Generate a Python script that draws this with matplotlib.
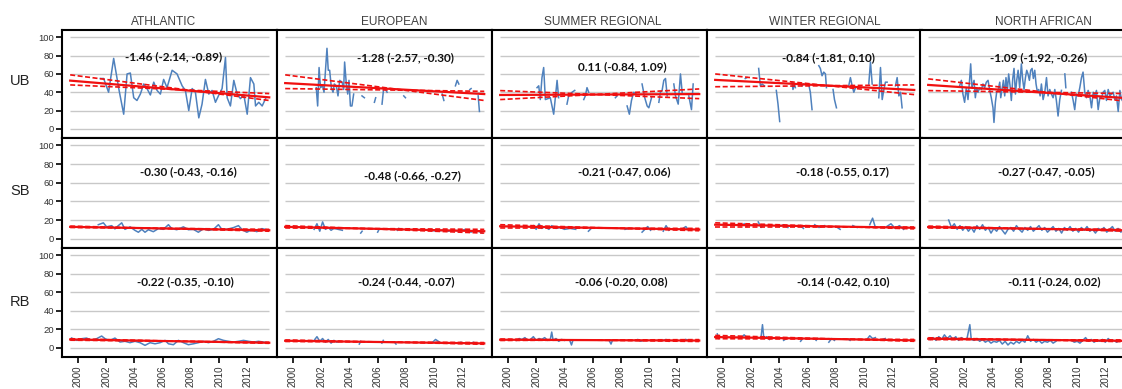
import matplotlib
matplotlib.use("Agg")
import matplotlib.pyplot as plt
import numpy as np

nan = float("nan")

regions = ["ATHLANTIC", "EUROPEAN", "SUMMER REGIONAL", "WINTER REGIONAL", "NORTH AFRICAN"]
rows = ["UB", "SB", "RB"]
year_ticks = [2000, 2002, 2004, 2006, 2008, 2010, 2012]
value_ticks = [0, 20, 40, 60, 80, 100]

# slope (95% CI) printed in each panel
ub_labels = ["-1.46 (-2.14, -0.89)", "-1.28 (-2.57, -0.30)", "0.11 (-0.84, 1.09)",
             "-0.84 (-1.81, 0.10)", "-1.09 (-1.92, -0.26)"]
sb_labels = ["-0.30 (-0.43, -0.16)", "-0.48 (-0.66, -0.27)", "-0.21 (-0.47, 0.06)",
             "-0.18 (-0.55, 0.17)", "-0.27 (-0.47, -0.05)"]
rb_labels = ["-0.22 (-0.35, -0.10)", "-0.24 (-0.44, -0.07)", "-0.06 (-0.20, 0.08)",
             "-0.14 (-0.42, 0.10)", "-0.11 (-0.24, 0.02)"]

# fitted trend (start, end) and the two CI lines
ub_fit = [(52.7, 34.4), (50, 38), (37, 38), (53.5, 42.5), (48, 33.5)]
ub_ci1 = [(59, 31), (59, 31), (41.8, 33), (60, 37.4), (54.6, 30)]
ub_ci2 = [(48, 38.5), (44, 41), (32, 43.6), (46, 48), (41.8, 38.5)]
sb_fit = [(12.7, 9), (12.7, 8), (13.3, 9.8), (15, 11.7), (12.5, 9)]
sb_ci1 = [(13.5, 8), (14, 6), (15, 8.5), (17, 10.5), (13.5, 8)]
sb_ci2 = [(12, 10), (11.5, 10), (11.5, 11), (13, 13), (11.5, 10)]
rb_fit = [(9, 5.4), (7.6, 4.7), (8.7, 7.8), (11.6, 8), (9.8, 7.5)]
rb_ci1 = [(9.8, 4.8), (8.5, 3.8), (9.5, 6.8), (13.4, 7), (10.8, 6.5)]
rb_ci2 = [(8.2, 6), (6.8, 5.6), (7.9, 8.8), (9.8, 9), (8.8, 8.5)]

# ---- UB series
ub_athl_x = [2001.58, 2001.82, 2002.17, 2002.53, 2002.89, 2003.24, 2003.48, 2003.71, 2003.95, 2004.18,
             2004.42, 2004.66, 2004.89, 2005.13, 2005.37, 2005.60, 2005.84, 2006.07, 2006.31, 2006.67,
             2007.02, 2007.38, 2007.61, 2007.85, 2008.09, 2008.32, 2008.56, 2008.79, 2009.03, 2009.27,
             2009.50, 2009.74, 2009.98, 2010.21, 2010.45, 2010.57, 2010.80, 2011.04, 2011.28, 2011.51,
             2011.75, 2011.99, 2012.22, 2012.46, 2012.58, 2012.81, 2013.05, 2013.29]
ub_athl_y = [55, 55, 40, 77, 44, 16, 60, 61, 34, 31, 38, 49, 44, 37, 51, 42, 38, 54, 45, 64,
             60, 47, 42, 20, 44, 40, 12, 27, 54, 38, 42, 29, 37, 44, 78, 34, 25, 53, 38, 33,
             37, 16, 56, 49, 25, 29, 25, 33]

ub_euro_x = [2001.65, 2001.75, 2001.85, 2001.95, 2002.1, 2002.2, 2002.41, 2002.5, 2002.6, 2002.72,
             2002.84, 2002.93, 2003.07, 2003.19, 2003.31, 2003.48, 2003.59, 2003.66, 2003.78, 2003.88,
             2003.97, 2004.07, 2004.18, 2004.30, nan, 2004.89, 2005.06, nan, 2005.77, 2005.86, nan,
             2006.31, 2006.43, 2006.55, 2006.67, nan, 2007.85, 2007.97, nan, 2010.57, 2010.69, nan,
             2011.51, 2011.63, 2011.75, nan, 2012.53, 2012.62, nan, 2013.12, 2013.21]
ub_euro_y = [45, 25, 67, 45, 47, 40, 88, 64, 64, 45,
             40, 49, 47, 36, 53, 51, 43, 73, 49, 38,
             53, 25, 25, 38, nan, 36, 34, nan, 29, 34, nan,
             27, 45, 43, 40, nan, 36, 34, nan, 38, 31, nan,
             47, 53, 49, nan, 43, 44, nan, 36, 19]

ub_summ_x = [2002.06, 2002.18, 2002.29, 2002.41, 2002.53, 2002.65, 2003.00, 2003.24, 2003.48, 2003.59,
             nan, 2004.18, 2004.30, 2004.54, 2004.73, nan, 2005.37, 2005.48, 2005.60, 2005.72, nan,
             2007.61, 2007.73, nan, 2008.44, 2008.60, 2008.75, 2008.91, 2009.08, nan,
             2009.50, 2009.69, 2009.86, 2009.98, 2010.17, nan, 2010.69, 2010.80, 2010.92, 2011.04,
             2011.16, 2011.28, nan, 2011.75, 2011.87, 2012.06, 2012.22, 2012.34, nan,
             2012.81, 2013.00, 2013.12]
ub_summ_y = [45, 47, 32, 56, 67, 32, 34, 16, 53, 34,
             nan, 27, 36, 40, 42, nan, 32, 36, 45, 40, nan,
             34, 36, nan, 25, 16, 31, 40, 38, nan,
             49, 34, 25, 23, 34, nan, 29, 40, 42, 53,
             55, 36, nan, 49, 36, 27, 60, 40, nan,
             36, 21, 49]

ub_wint_x = [2001.58, 2001.70, nan, 2002.53, 2002.65, 2002.77, 2002.93, nan, 2003.78, 2003.90, 2004.02,
             nan, 2004.89, 2004.96, 2005.06, 2005.13, nan, 2005.60, 2005.72, nan, 2006.07, 2006.19,
             2006.31, nan, 2006.79, 2006.90, 2007.02, 2007.14, 2007.26, 2007.33, nan, 2007.80, 2007.90,
             2008.04, nan, 2008.91, 2009.03, 2009.15, 2009.27, 2009.39, nan, 2010.33, 2010.45, 2010.57,
             nan, 2011.04, 2011.16, 2011.28, 2011.40, 2011.51, 2011.63, nan, 2012.22, 2012.34, 2012.46,
             2012.58, 2012.69]
ub_wint_y = [55, 56, nan, 66, 47, 49, 47, nan, 42, 27, 8,
             nan, 51, 43, 49, 45, nan, 47, 49, nan, 49, 40,
             21, nan, 69, 66, 58, 62, 60, 45, nan, 43, 32,
             23, nan, 47, 56, 47, 40, 45, nan, 49, 73, 49,
             nan, 34, 67, 32, 43, 51, 51, nan, 47, 56, 36,
             40, 23]

ub_nafr_x = [2001.68, 2001.80, 2001.91, 2002.03, 2002.15, 2002.27, 2002.39, 2002.46, 2002.55, 2002.70,
             2002.79, 2002.88, 2002.98, 2003.10, 2003.22, 2003.33, 2003.45, 2003.57, 2003.69, 2003.81,
             2003.92, 2004.04, 2004.11, 2004.21, 2004.30, 2004.40, 2004.52, 2004.59, 2004.68, 2004.78,
             2004.87, 2004.96, 2005.06, 2005.15, 2005.25, 2005.34, 2005.44, 2005.53, 2005.63, 2005.72,
             2005.82, 2005.93, 2006.05, 2006.15, 2006.24, 2006.34, 2006.43, 2006.52, 2006.62, 2006.71,
             2006.81, 2006.90, 2007.00, 2007.09, 2007.19, 2007.28, 2007.38, 2007.47, 2007.59, 2007.71,
             2007.83, 2007.94, 2008.06, 2008.18, 2008.30, 2008.42, 2008.53, 2008.65, 2008.77, 2008.89,
             nan, 2009.13, 2009.20, nan, 2009.60, 2009.72, 2009.83, 2009.95, 2010.07, 2010.19,
             2010.31, 2010.42, 2010.54, 2010.66, 2010.78, 2010.90, 2011.02, 2011.14, 2011.25, 2011.37,
             2011.49, 2011.61, 2011.73, 2011.84, 2011.96, 2012.08, 2012.20, 2012.32, 2012.43, 2012.55,
             2012.67, 2012.79, 2012.91, 2013.03, 2013.14, 2013.30, 2013.45]
ub_nafr_y = [47, 53, 38, 29, 45, 32, 55, 71, 45, 53,
             34, 45, 40, 45, 43, 49, 45, 51, 53, 42,
             34, 23, 7, 29, 40, 42, 51, 34, 43, 53,
             36, 56, 42, 60, 47, 31, 55, 66, 38, 53,
             64, 45, 71, 53, 43, 56, 64, 60, 53, 64,
             66, 55, 64, 49, 40, 43, 36, 49, 32, 40,
             56, 36, 43, 38, 34, 43, 31, 14, 32, 42,
             nan, 60, 45, nan, 40, 31, 21, 38, 36, 45,
             56, 62, 40, 34, 42, 36, 23, 40, 36, 42,
             21, 34, 34, 40, 42, 31, 43, 36, 38, 40,
             32, 36, 19, 42, 32, 30, 38]

# ---- SB series
sb_athl_x = [2001.44, 2001.80, 2002.03, 2002.39, 2002.62, 2002.86, 2003.10, 2003.33, 2003.69, 2004.04,
             2004.28, 2004.52, 2004.75, 2004.99, 2005.34, 2005.70, 2006.05, 2006.41, 2006.64, 2007.00,
             2007.47, 2007.82, 2008.18, 2008.53, 2008.89, 2009.24, 2009.60, 2009.95, 2010.19, 2010.54,
             2011.02, 2011.37, 2011.61, 2011.96, 2012.32, 2012.67, 2013.03, 2013.38]
sb_athl_y = [15, 17, 12.7, 14, 10.5, 14, 17, 10, 12.7, 8.9,
             6.9, 10, 6.9, 9.6, 7.5, 10.8, 10, 15, 10.8, 9.6,
             12.7, 9.6, 10, 6.9, 10.8, 8.9, 10, 15, 10, 10,
             11.9, 14, 10, 6.9, 9.6, 7.5, 10.8, 9.6]

sb_euro_x = [2001.5, 2001.7, 2001.9, 2002.1, 2002.3, 2002.5, 2002.7, 2002.9, 2003.2, 2003.5,
             nan, 2004.8, 2004.9, nan, 2006.0, 2006.1, nan, 2007.4, 2007.5, nan,
             2009.8, 2010.2, 2010.6, 2011.0, 2011.4, 2011.8, 2012.2, 2012.6, 2013.0, 2013.4]
sb_euro_y = [10, 16, 8, 18, 10, 12, 9, 11, 10, 9,
             nan, 6, 8, nan, 7, 10, nan, 9, 11, nan,
             9, 8, 9, 8, 9, 8, 10, 7, 9, 6]

sb_summ_x = [2001.8, 2002.0, 2002.2, 2002.4, 2002.6, 2002.9, 2003.1, 2003.4, 2003.7, 2004.0,
             2004.4, 2004.8, nan, 2005.7, 2005.9, nan, 2008.3, 2008.6, nan, 2009.5,
             2009.7, 2009.9, 2010.1, nan, 2011.0, 2011.2, 2011.4, nan, 2012.4, 2012.6, 2012.8]
sb_summ_y = [14, 10, 16, 11, 13, 10, 14, 11, 12, 10,
             11, 10, nan, 8, 11, nan, 10, 11, nan, 7,
             10, 13, 9, nan, 8, 14, 9, nan, 11, 13, 9]

sb_wint_x = [2001.5, 2001.7, nan, 2002.5, 2002.7, 2002.9, nan, 2004.0, 2004.3, 2004.6,
             nan, 2005.5, 2005.7, nan, 2006.5, 2006.8, 2007.2, nan, 2008.0, 2008.3,
             nan, 2009.2, 2009.5, nan, 2010.4, 2010.6, 2010.8, nan, 2011.6, 2011.9,
             2012.2, 2012.5, 2012.8]
sb_wint_y = [16, 13, nan, 18, 12, 15, nan, 13, 15, 12,
             nan, 14, 11, nan, 15, 12, 14, nan, 13, 10,
             nan, 14, 12, nan, 15, 22, 12, nan, 13, 16,
             11, 14, 10]

sb_nafr_x = [2000.9, 2001.1, 2001.3, 2001.5, 2001.7, 2001.9, 2002.1, 2002.3, 2002.5, 2002.7,
             2002.9, 2003.1, 2003.3, 2003.5, 2003.7, 2003.9, 2004.1, 2004.3, 2004.5, 2004.7,
             2004.9, 2005.1, 2005.3, 2005.5, 2005.7, 2005.9, 2006.1, 2006.3, 2006.5, 2006.7,
             2006.9, 2007.1, 2007.3, 2007.5, 2007.7, 2007.9, 2008.1, 2008.3, 2008.5, 2008.7,
             2008.9, 2009.1, 2009.3, 2009.5, 2009.7, 2009.9, 2010.1, 2010.3, 2010.5, 2010.7,
             2010.9, 2011.1, 2011.3, 2011.5, 2011.7, 2011.9, 2012.1, 2012.3, 2012.5, 2012.7,
             2012.9, 2013.1, 2013.3]
sb_nafr_y = [20, 12, 16, 10, 14, 9, 13, 8, 12, 7,
             14, 10, 15, 9, 12, 6, 11, 8, 13, 9,
             5, 10, 12, 8, 14, 10, 7, 12, 9, 13,
             8, 11, 14, 9, 12, 7, 10, 13, 8, 11,
             6, 12, 9, 13, 8, 11, 7, 12, 9, 13,
             8, 10, 6, 11, 9, 12, 7, 10, 13, 8,
             11, 7, 10]

# ---- RB series
rb_athl_x = [1999.55, 1999.91, 2000.26, 2000.61, 2000.97, 2001.32, 2001.68, 2001.92, 2002.27, 2002.62,
             2002.98, 2003.33, 2003.69, 2004.04, 2004.40, 2004.75, 2005.11, 2005.46, 2005.82, 2006.17,
             2006.41, 2006.76, 2007.12, 2007.47, 2007.82, 2008.18, 2008.53, 2008.89, 2009.24, 2009.60,
             2009.95, 2010.31, 2010.66, 2011.02, 2011.37, 2011.73, 2012.08, 2012.44, 2012.79, 2013.14,
             2013.38]
rb_athl_y = [10.5, 8, 9.8, 10.5, 8, 9.8, 12.7, 9.8, 8, 10.5,
             6.2, 7, 5.5, 7, 5.5, 2.6, 5.5, 4.3, 5.5, 8,
             4.3, 3.3, 8, 5.5, 3.3, 4.3, 5.5, 7, 5.5, 7,
             9.8, 8, 7, 6.2, 7, 8, 7, 6.2, 7, 6.2,
             5.5]

rb_euro_x = [2001.5, 2001.7, 2001.9, 2002.1, 2002.3, 2002.5, 2002.7, 2002.9, 2003.1, 2003.3,
             nan, 2004.7, 2004.8, nan, 2006.3, 2006.4, nan, 2007.2, 2007.3, nan,
             2009.9, 2010.1, 2010.3, 2010.5, nan, 2011.7, 2011.9, nan, 2012.6, 2012.8, 2013.0]
rb_euro_y = [8, 12, 7, 10, 6, 9, 5, 8, 6, 7,
             nan, 4, 7, nan, 5, 8, nan, 6, 4, nan,
             6, 9, 7, 5, nan, 5, 6, nan, 5, 6, 4]

rb_summ_x = [2000.6, 2000.8, 2001.0, 2001.2, 2001.4, 2001.6, 2001.8, 2002.0, 2002.2, 2002.4,
             2002.6, 2002.8, 2003.0, 2003.1, 2003.2, 2003.4, 2003.6, 2003.8, 2004.0, nan,
             2004.4, 2004.5, 2004.6, nan, 2007.2, 2007.3, 2007.4, nan, 2009.0, 2009.2,
             2009.4, 2009.6, nan, 2011.0, 2011.2, 2011.4, nan, 2012.6, 2012.8]
rb_summ_y = [8, 10, 9, 11, 8, 9, 12, 8, 10, 9,
             11, 8, 9, 17, 8, 10, 7, 9, 8, nan,
             7, 3, 8, nan, 7, 4, 8, nan, 8, 9,
             7, 8, nan, 8, 9, 7, nan, 9, 8]

rb_wint_x = [1999.6, 1999.7, nan, 2001.3, 2001.5, 2001.7, nan, 2002.7, 2002.8, 2002.9,
             2003.1, 2003.3, nan, 2004.3, 2004.5, nan, 2005.5, 2005.6, nan, 2006.6,
             2006.7, nan, 2007.5, 2007.7, 2007.9, nan, 2008.9, 2009.0, nan, 2010.2,
             2010.4, 2010.6, 2010.8, nan, 2011.3, 2011.5]
rb_wint_y = [15, 10, nan, 11, 14, 11, nan, 12, 25, 10,
             12, 9, nan, 8, 10, nan, 7, 9, nan, 8,
             10, nan, 6, 10, 8, nan, 9, 8, nan, 9,
             13, 10, 11, nan, 9, 10]

rb_nafr_x = [1999.6, 1999.8, 2000.0, 2000.2, 2000.4, 2000.6, 2000.8, 2001.0, 2001.2, 2001.4,
             2001.6, 2001.8, 2002.0, 2002.2, 2002.4, 2002.5, 2002.7, 2002.9, 2003.1, 2003.3,
             2003.5, 2003.7, 2003.9, 2004.1, 2004.3, 2004.5, 2004.7, 2004.9, 2005.1, 2005.3,
             2005.5, 2005.7, 2005.9, 2006.1, 2006.3, 2006.5, 2006.7, 2006.9, 2007.1, 2007.3,
             2007.5, 2007.7, 2007.9, 2008.1, 2008.3, 2008.5, nan, 2009.6, 2009.8, 2010.0,
             2010.2, 2010.4, 2010.6, 2010.8, 2011.0, 2011.2, 2011.4, 2011.6, 2011.8, 2012.0,
             2012.2, 2012.4, 2012.6, 2012.8, 2013.0, 2013.2]
rb_nafr_y = [9, 11, 8, 12, 9, 14, 10, 13, 9, 12,
             8, 11, 9, 10, 25, 9, 8, 10, 7, 9,
             6, 8, 5, 7, 6, 8, 4, 7, 3, 6,
             4, 7, 5, 8, 6, 13, 7, 9, 6, 8,
             5, 7, 6, 8, 5, 7, nan, 8, 6, 7,
             5, 8, 11, 7, 9, 6, 8, 7, 9, 6,
             10, 7, 8, 6, 8, 7]

series = [
    [(ub_athl_x, ub_athl_y), (ub_euro_x, ub_euro_y), (ub_summ_x, ub_summ_y), (ub_wint_x, ub_wint_y), (ub_nafr_x, ub_nafr_y)],
    [(sb_athl_x, sb_athl_y), (sb_euro_x, sb_euro_y), (sb_summ_x, sb_summ_y), (sb_wint_x, sb_wint_y), (sb_nafr_x, sb_nafr_y)],
    [(rb_athl_x, rb_athl_y), (rb_euro_x, rb_euro_y), (rb_summ_x, rb_summ_y), (rb_wint_x, rb_wint_y), (rb_nafr_x, rb_nafr_y)],
]
labels = [ub_labels, sb_labels, rb_labels]
fits = [ub_fit, sb_fit, rb_fit]
cis1 = [ub_ci1, sb_ci1, rb_ci1]
cis2 = [ub_ci2, sb_ci2, rb_ci2]

# layout (pixels in a 1122x389 canvas)
W, H = 1122, 389
col_left = [62, 277, 492, 707, 920]
col_w = 215
row_span = [(30, 138), (138, 248), (248, 357)]
title_cx = [164, 394, 603, 825, 1043]
row_label_cy = [81, 191, 302]
text_pos = [
    [(2006.75, 79), (2007.95, 78), (2008.1, 68), (2007.45, 78), (2007.25, 78)],
    [(2007.8, 72), (2008.45, 68), (2008.25, 72), (2008.45, 72), (2007.8, 72)],
    [(2007.6, 72), (2008.0, 72), (2008.0, 72), (2008.5, 72), (2008.4, 72)],
]
x_lo, x_hi = 1999.45, 2013.55

blue = "#4f81bd"
red = "#f01010"

fig = plt.figure(figsize=(W / 100, H / 100), dpi=100)

for r in range(3):
    top, bot = row_span[r]
    for c in range(5):
        ax = fig.add_axes([col_left[c] / W, (H - bot) / H, col_w / W, (bot - top) / H])
        ax.set_xlim(1998.87, 2014.1)
        ax.set_ylim(-10, 108)
        ax.hlines(value_ticks, x_lo, x_hi, color="#c8c8c8", lw=1.0, zorder=1)

        xs, ys = series[r][c]
        ax.plot(xs, ys, color=blue, lw=1.1, zorder=2)

        f = fits[r][c]
        ax.plot([x_lo, x_hi], f, color=red, lw=1.6, zorder=3)
        for ci in (cis1[r][c], cis2[r][c]):
            ax.plot([x_lo, x_hi], ci, color=red, lw=1.2, ls=(0, (3, 1.5)), zorder=3)

        tx, ty = text_pos[r][c]
        ax.text(tx, ty, labels[r][c], ha="center", va="center", fontsize=8.5,
                fontweight="bold", family="Lato", color="#111111", zorder=4)

        for s in ax.spines.values():
            s.set_color("black")
            s.set_linewidth(1.5)

        if c == 0:
            ax.set_yticks(value_ticks)
            ax.tick_params(axis="y", direction="out", length=4, width=1.2, pad=1.5,
                           labelsize=6.8, labelcolor="#333333")
            for lab in ax.get_yticklabels():
                lab.set_family("Liberation Sans")
        else:
            ax.set_yticks([])

        if r == 2:
            ax.set_xticks(year_ticks)
            ax.set_xticklabels([str(y) for y in year_ticks], rotation=90,
                               fontsize=7, color="#333333", family="Liberation Sans")
            ax.tick_params(axis="x", direction="out", length=4, width=1.2, pad=2)
        else:
            ax.set_xticks([])

for c in range(5):
    fig.text(title_cx[c] / W, 1 - 22 / H, regions[c], ha="center", va="center",
             fontsize=8.6, family="Liberation Sans", color="#404040")

for r in range(3):
    fig.text(20 / W, 1 - row_label_cy[r] / H, rows[r], ha="center", va="center",
             fontsize=10.5, family="Liberation Sans", color="#222222")

fig.savefig("out.png", dpi=100)
